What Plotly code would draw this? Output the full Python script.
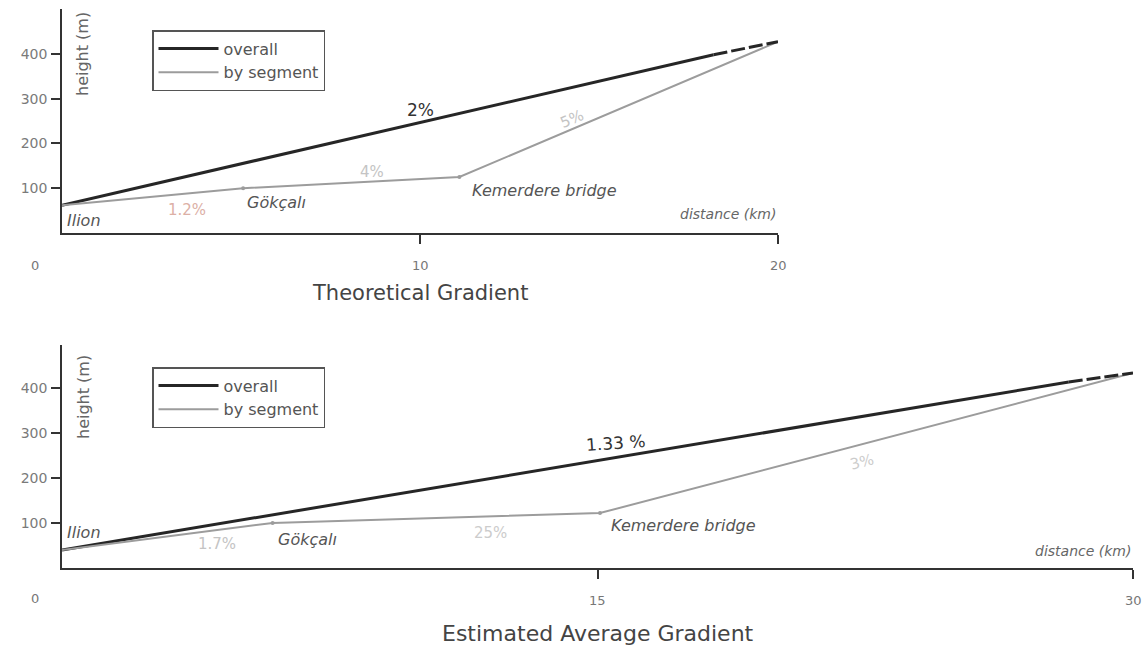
import plotly.graph_objects as go

W, H = 1145, 649
FONT = "DejaVu Sans"

# ---- Theoretical gradient (top) ----
top_overall_x = [0, 18.2]
top_overall_y = [62, 398]
top_overall_tail_x = [18.2, 20]
top_overall_tail_y = [398, 427]
top_seg_x = [0, 5.06, 11.1, 20]
top_seg_y = [62, 100, 125, 427]
sites = ["Ilion", "Gökçalı", "Kemerdere bridge"]

# ---- Estimated average gradient (bottom) ----
bot_overall_x = [0, 28.2]
bot_overall_y = [40, 413]
bot_overall_tail_x = [28.2, 30]
bot_overall_tail_y = [413, 433]
bot_seg_x = [0, 5.9, 15.07, 30]
bot_seg_y = [40, 100, 122, 433]

top_xticks = [10, 20]
bot_xticks = [15, 30]
yticks = [100, 200, 300, 400]

DARK = "#262626"
GREY = "#9c9c9c"
DASH = "14px,4px"

fig = go.Figure()

# top traces
fig.add_trace(go.Scatter(x=top_overall_x, y=top_overall_y, mode="lines", name="overall",
                         line=dict(color=DARK, width=3), xaxis="x", yaxis="y", legend="legend"))
fig.add_trace(go.Scatter(x=top_seg_x, y=top_seg_y, mode="lines", name="by segment",
                         line=dict(color=GREY, width=2), xaxis="x", yaxis="y", legend="legend"))
fig.add_trace(go.Scatter(x=top_overall_tail_x, y=top_overall_tail_y, mode="lines", showlegend=False,
                         line=dict(color=DARK, width=3, dash=DASH), xaxis="x", yaxis="y"))
fig.add_trace(go.Scatter(x=top_seg_x[1:3], y=top_seg_y[1:3], mode="markers", showlegend=False,
                         marker=dict(color=GREY, size=4), xaxis="x", yaxis="y"))

# bottom traces
fig.add_trace(go.Scatter(x=bot_overall_x, y=bot_overall_y, mode="lines", name="overall",
                         line=dict(color=DARK, width=3), xaxis="x2", yaxis="y2", legend="legend2"))
fig.add_trace(go.Scatter(x=bot_seg_x, y=bot_seg_y, mode="lines", name="by segment",
                         line=dict(color=GREY, width=2), xaxis="x2", yaxis="y2", legend="legend2"))
fig.add_trace(go.Scatter(x=bot_overall_tail_x, y=bot_overall_tail_y, mode="lines", showlegend=False,
                         line=dict(color=DARK, width=3, dash=DASH), xaxis="x2", yaxis="y2"))
fig.add_trace(go.Scatter(x=bot_seg_x[1:3], y=bot_seg_y[1:3], mode="markers", showlegend=False,
                         marker=dict(color=GREY, size=4), xaxis="x2", yaxis="y2"))

axis_common = dict(showgrid=False, zeroline=False, showline=True, linecolor="#333",
                   linewidth=1.5, ticks="outside", tickcolor="#333", ticklen=9, tickwidth=1.5,
                   tickfont=dict(family=FONT, size=14, color="#7a7a7a"))

legend_common = dict(xanchor="left", yanchor="top", bordercolor="#555", borderwidth=1.5,
                     bgcolor="white", font=dict(family=FONT, size=16, color="#555"),
                     itemwidth=60)

fig.update_layout(
    width=W, height=H,
    margin=dict(l=0, r=0, t=0, b=0),
    paper_bgcolor="white", plot_bgcolor="white",
    font=dict(family=FONT, color="#555"),
    xaxis=dict(domain=[62 / W, 778 / W], range=[0, 20], tickvals=top_xticks,
               showticklabels=False, anchor="y", **axis_common),
    yaxis=dict(domain=[(H - 233) / H, (H - 9) / H], range=[0, 500], tickvals=yticks,
               anchor="x", ticklabelstandoff=1, **axis_common),
    xaxis2=dict(domain=[62 / W, 1133 / W], range=[0, 30], tickvals=bot_xticks,
                showticklabels=False, anchor="y2", **axis_common),
    yaxis2=dict(domain=[(H - 568) / H, (H - 345) / H], range=[0, 495], tickvals=yticks,
                anchor="x2", ticklabelstandoff=1, **axis_common),
    legend=dict(x=152 / W, y=1 - 30 / H, **legend_common),
    legend2=dict(x=152 / W, y=1 - 367 / H, **legend_common),
)

anns = []


def ann(text, x, y, xref, yref, size=13, color="#555", italic=False, angle=0,
        xanchor="center", yanchor="middle", **kw):
    anns.append(dict(text=("<i>%s</i>" % text) if italic else text, x=x, y=y, xref=xref, yref=yref,
                     showarrow=False, textangle=angle, xanchor=xanchor, yanchor=yanchor,
                     font=dict(family=FONT, size=size, color=color), **kw))


def pann(text, px, py, **kw):
    ann(text, px / W, 1 - py / H, "paper", "paper", **kw)


# x tick labels placed through the axes
for v in top_xticks:
    ann(str(v), v, 0, "x", "y", size=13, color="#777", yshift=-32)
for v in bot_xticks:
    ann(str(v), v, 0, "x2", "y2", size=13, color="#777", yshift=-32)
pann("0", 35, 265, size=13, color="#777")
pann("0", 35, 598, size=13, color="#777")

# axis titles
pann("height (m)", 83, 54, size=16, color="#666", angle=-90)
pann("height (m)", 83, 397, size=16, color="#666", angle=-90)
ann("distance (km)", 20, 0, "x", "y", size=14, color="#666", italic=True,
    xanchor="right", yshift=19)
ann("distance (km)", 30, 0, "x2", "y2", size=14, color="#666", italic=True,
    xanchor="right", yshift=17)

# site labels, top
ann(sites[0], top_seg_x[0], top_seg_y[0], "x", "y", size=16, italic=True, xanchor="left",
    xshift=3, yshift=-15)
ann(sites[1], top_seg_x[1], top_seg_y[1], "x", "y", size=16, italic=True, xshift=33, yshift=-14)
ann(sites[2], top_seg_x[2], top_seg_y[2], "x", "y", size=16, italic=True, xshift=85, yshift=-13)
# site labels, bottom
ann(sites[0], bot_seg_x[0], bot_seg_y[0], "x2", "y2", size=16, italic=True, xanchor="left",
    xshift=3, yshift=17)
ann(sites[1], bot_seg_x[1], bot_seg_y[1], "x2", "y2", size=16, italic=True, xshift=35, yshift=-17)
ann(sites[2], bot_seg_x[2], bot_seg_y[2], "x2", "y2", size=16, italic=True, xshift=83, yshift=-12)

# gradient labels
ann("2%", 10, 275, "x", "y", size=17, color="#333")
ann("1.2%", 3.5, 52, "x", "y", size=15, color="#dcb0a6")
ann("4%", 8.65, 137, "x", "y", size=15, color="#c4c4c4")
ann("5%", 14.25, 255, "x", "y", size=15, color="#c4c4c4", angle=-23)
ann("1.33 %", 15.5, 277, "x2", "y2", size=17, color="#333", angle=-4)
ann("1.7%", 4.35, 53, "x2", "y2", size=15, color="#c4c4c4")
ann("25%", 12.0, 77, "x2", "y2", size=15, color="#cccccc")
ann("3%", 22.4, 235, "x2", "y2", size=15, color="#cccccc", angle=-15)

# titles
pann("Theoretical Gradient", 420, 293, size=21, color="#444")
pann("Estimated Average Gradient", 598, 633, size=22, color="#444")

fig.update_layout(annotations=anns)
fig.write_html("out.html", config={"displayModeBar": False},
               post_script="document.body.style.margin='0';document.body.style.overflow='hidden';")
